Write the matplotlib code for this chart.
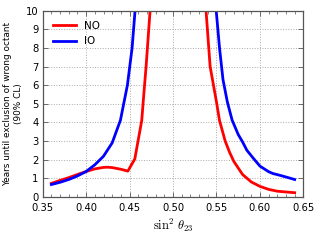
import matplotlib
matplotlib.use("Agg")
import matplotlib.pyplot as plt
from matplotlib.ticker import MultipleLocator

plt.rcParams['mathtext.fontset'] = 'cm'
plt.rcParams['font.family'] = ['DejaVu Sans']

# Normal ordering (NO)
no_x = [0.360, 0.370, 0.380, 0.390, 0.400, 0.410, 0.420, 0.425, 0.430, 0.440, 0.448,
        0.456, 0.464, 0.4655, 0.469, 0.4736, 0.476,
        0.536, 0.538, 0.5427, 0.550, 0.5535, 0.560, 0.565, 0.570, 0.580, 0.590,
        0.600, 0.610, 0.620, 0.630, 0.640]
no_y = [0.72, 0.88, 1.03, 1.20, 1.36, 1.50, 1.58, 1.59, 1.57, 1.48, 1.38,
        2.03, 4.10, 5.00, 7.00, 10.0, 12.0,
        12.0, 10.0, 7.0, 5.1, 4.1, 3.0, 2.4, 1.9, 1.2, 0.8,
        0.56, 0.40, 0.30, 0.26, 0.22]

# Inverted ordering (IO)
io_x = [0.360, 0.370, 0.380, 0.390, 0.400, 0.410, 0.420, 0.430, 0.4395, 0.4475,
        0.4529, 0.4563, 0.458,
        0.548, 0.5497, 0.5535, 0.5575, 0.5625, 0.568, 0.575, 0.580, 0.585, 0.5926, 0.600,
        0.610, 0.615, 0.625, 0.640]
io_y = [0.66, 0.78, 0.93, 1.12, 1.36, 1.72, 2.18, 2.90, 4.12, 6.0,
        8.0, 10.0, 12.0,
        12.0, 10.0, 8.0, 6.3, 5.1, 4.12, 3.35, 2.95, 2.50, 2.06, 1.65,
        1.35, 1.25, 1.13, 0.93]

labels = ["NO", "IO"]
colors = ["red", "blue"]

fig = plt.figure(figsize=(3.2, 2.4), dpi=100)
ax = fig.add_axes([0.1334, 0.18, 0.948 - 0.1334, 0.9554 - 0.18])

ax.plot(no_x, no_y, color=colors[0], lw=2.0, label=labels[0])
ax.plot(io_x, io_y, color=colors[1], lw=2.0, label=labels[1])

ax.set_xlim(0.35, 0.65)
ax.set_ylim(0, 10)
ax.set_xticks([0.35, 0.40, 0.45, 0.50, 0.55, 0.60, 0.65])
ax.set_xticklabels(["0.35", "0.40", "0.45", "0.50", "0.55", "0.60", "0.65"])
ax.set_yticks(range(0, 11))
ax.xaxis.set_minor_locator(MultipleLocator(0.01))
ax.tick_params(which='both', direction='in', top=True, right=True, labelsize=7.2,
               color='#555555')
ax.tick_params(which='major', length=3.5, width=0.6)
ax.tick_params(axis='x', which='major', pad=4.5)
ax.tick_params(axis='y', which='major', pad=3)
ax.tick_params(which='minor', length=2, width=0.5)
for s in ax.spines.values():
    s.set_color('#555555')
    s.set_linewidth(0.9)

ax.grid(True, which='major', linestyle=':', color='#aaaaaa', linewidth=0.7)

ax.set_xlabel(r"$\sin^2\,\theta_{23}$", fontsize=9, labelpad=3)
ax.set_ylabel("Years until exclusion of wrong octant\n(90% CL)", fontsize=6.4,
              labelpad=2, linespacing=1.35)

ax.legend(loc='upper left', frameon=False, fontsize=7.5, handlelength=2.2,
          borderaxespad=0.6, labelspacing=0.5)

fig.savefig("out.png", dpi=100)
